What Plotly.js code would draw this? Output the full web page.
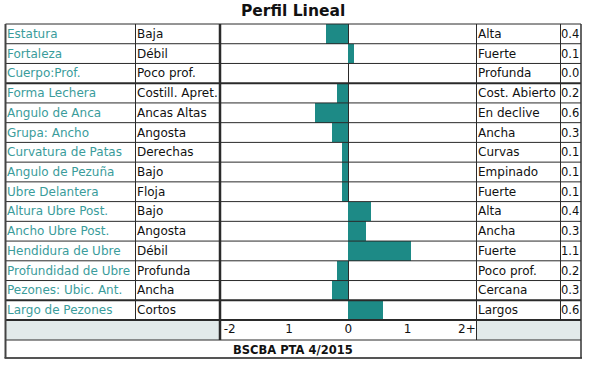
<!DOCTYPE html>
<html>
<head>
<meta charset="utf-8">
<script src="https://cdn.plot.ly/plotly-3.0.1.min.js"></script>
<style>html,body{margin:0;padding:0;background:#fff;}#chart{width:594px;height:392px;}</style>
</head>
<body>
<div id="chart"></div>
<script>
// ---- data ----
const traits = ["Estatura","Fortaleza","Cuerpo:Prof.","Forma Lechera","Angulo de Anca","Grupa: Ancho","Curvatura de Patas","Angulo de Pezuña","Ubre Delantera","Altura Ubre Post.","Ancho Ubre Post.","Hendidura de Ubre","Profundidad de Ubre","Pezones: Ubic. Ant.","Largo de Pezones"];
const lowLabels = ["Baja","Débil","Poco prof.","Costill. Apret.","Ancas Altas","Angosta","Derechas","Bajo","Floja","Bajo","Angosta","Débil","Profunda","Ancha","Cortos"];
const highLabels = ["Alta","Fuerte","Profunda","Cost. Abierto","En declive","Ancha","Curvas","Empinado","Fuerte","Alta","Ancha","Fuerte","Poco prof.","Cercana","Largos"];
const values = [-0.38,0.1,0.0,-0.19,-0.56,-0.27,-0.1,-0.1,-0.1,0.39,0.3,1.06,-0.19,-0.27,0.59];
const tickVals = [-2,-1,0,1,2];
const tickText = ["-2","1","0","1","2+"];
const titleText = "Perfil Lineal";
const footerText = "BSCBA PTA 4/2015";

// ---- layout geometry (pixels) ----
const W = 594, H = 392;
const tableTop = 24, axisTop = 320, footTop = 340, tableBottom = 358;
const rowH = (axisTop - tableTop) / traits.length;
const xL = 5.5, xDesc = 135.5, xBar = 220, xHigh = 476.5, xVal = 560.5, xR = 581;
const px = p => p / W;
const py = p => 1 - p / H;

const FONT = "DejaVu Sans, Verdana, sans-serif";
const TEAL_TEXT = "#3a9c9b";
const BAR = "#1d8a86";
const LINE = "#2a2a2a";

const rows = traits.map((_, i) => i);
const annotations = [];
rows.forEach(i => {
  annotations.push({xref:"paper", yref:"y", x:px(xL-0.5), y:i, xanchor:"left", yanchor:"middle", text:traits[i], showarrow:false, font:{family:FONT,size:12,color:TEAL_TEXT}});
  annotations.push({xref:"paper", yref:"y", x:px(xDesc-1), y:i, xanchor:"left", yanchor:"middle", text:lowLabels[i], showarrow:false, font:{family:FONT,size:12,color:"#111"}});
  annotations.push({xref:"paper", yref:"y", x:px(xHigh-0.5), y:i, xanchor:"left", yanchor:"middle", text:highLabels[i], showarrow:false, font:{family:FONT,size:12,color:"#111"}});
  const v = Math.abs(values[i]).toFixed(1);
  annotations.push({xref:"paper", yref:"y", x:px(xVal-1.5), y:i, xanchor:"left", yanchor:"middle", text:v, showarrow:false, font:{family:FONT,size:11.5,color:"#111"}});
});
annotations.push({xref:"paper", yref:"paper", x:px(293), y:py(11), xanchor:"center", yanchor:"middle", text:"<b>"+titleText+"</b>", showarrow:false, font:{family:FONT,size:15.5,color:"#111"}});
annotations.push({xref:"paper", yref:"paper", x:px(293), y:py(349.5), xanchor:"center", yanchor:"middle", text:"<b>"+footerText+"</b>", showarrow:false, font:{family:FONT,size:11.5,color:"#111"}});

const shapes = [];
// gray cells in axis row
shapes.push({type:"rect", xref:"paper", yref:"paper", x0:px(xL), x1:px(xBar), y0:py(axisTop), y1:py(footTop), fillcolor:"#e2eaea", line:{width:0}, layer:"below"});
shapes.push({type:"rect", xref:"paper", yref:"paper", x0:px(xHigh), x1:px(xR), y0:py(axisTop), y1:py(footTop), fillcolor:"#e2eaea", line:{width:0}, layer:"below"});
function hline(y, x0, x1, w, c){ shapes.push({type:"line", xref:"paper", yref:"paper", x0:px(x0), x1:px(x1), y0:py(y), y1:py(y), line:{color:c||LINE, width:w}, layer:"above"}); }
function vline(x, y0, y1, w, c){ shapes.push({type:"line", xref:"paper", yref:"paper", x0:px(x), x1:px(x), y0:py(y0), y1:py(y1), line:{color:c||LINE, width:w}, layer:"above"}); }
for (let k = 0; k <= traits.length; k++) {
  const y = tableTop + k * rowH;
  const thick = (k === 3 || k === 14 || k === 15);
  hline(y, xL, xR, thick ? 2 : 1);
}
hline(footTop, xL, xR, 1);
hline(tableBottom, xL-1, xR+1, 2, "#555");
vline(xL, tableTop, tableBottom, 2, "#444");
vline(xR, tableTop, tableBottom, 1.5, "#333");
vline(xDesc, tableTop, axisTop, 1);
vline(xVal, tableTop, axisTop, 1);
vline(xBar, tableTop, footTop, 2.5);
vline(xHigh, tableTop, footTop, 1);

const trace = {
  type:"bar", orientation:"h", x:values, y:rows, width:1,
  marker:{color:BAR, line:{width:0}}, hoverinfo:"skip"
};

const zero = 348.3, unit = 59.3;
const layout = {
  width:W, height:H, margin:{l:0,r:0,t:0,b:0},
  paper_bgcolor:"#fff", plot_bgcolor:"#fff", showlegend:false,
  xaxis:{domain:[px(xBar), px(xHigh)], range:[(xBar-zero)/unit, (xHigh-zero)/unit],
    tickvals:tickVals, ticktext:tickText, ticks:"", showgrid:false, showline:false,
    zeroline:true, zerolinecolor:LINE, zerolinewidth:1,
    tickfont:{family:FONT,size:12,color:"#111"}, fixedrange:true},
  yaxis:{domain:[py(axisTop), py(tableTop)], range:[traits.length-0.5, -0.5],
    visible:false, showgrid:false, zeroline:false, fixedrange:true},
  annotations:annotations, shapes:shapes, bargap:0
};
Plotly.newPlot("chart", [trace], layout, {staticPlot:true, displayModeBar:false});
</script>
</body>
</html>
